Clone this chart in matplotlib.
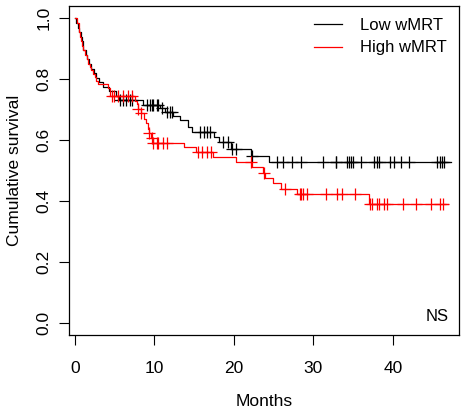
"""Kaplan-Meier style plot: Low vs High wMRT cumulative survival."""
import numpy as np
import matplotlib
matplotlib.use("Agg")
import matplotlib.pyplot as plt

plt.rcParams["font.family"] = ["Liberation Sans", "DejaVu Sans"]

# step times (months) and survival just after each step
low_t = [0.1, 0.4, 0.6, 0.8, 0.9, 1.0, 1.1, 1.4, 1.6, 1.8, 2.0, 2.4, 2.7, 3.1,
         3.5, 4.3, 5.2, 5.6, 8.6, 10.7, 11.3, 12.3, 13.2, 14.2, 14.7, 17.5,
         18.2, 19.6, 22.2, 24.4]
low_s = [0.985, 0.97, 0.955, 0.94, 0.925, 0.91, 0.895, 0.88, 0.865, 0.85,
         0.835, 0.82, 0.805, 0.79, 0.775, 0.76, 0.745, 0.731, 0.717, 0.704,
         0.692, 0.678, 0.665, 0.643, 0.627, 0.611, 0.594, 0.571, 0.548, 0.527]
low_cens = [5.7, 6.1, 6.5, 6.96, 7.2, 9.06, 9.5, 9.7, 9.9, 10.3, 10.5, 11.0,
            11.6, 12.0, 12.2, 15.7, 16.2, 16.6, 17.0, 18.7, 19.3, 19.8, 20.3,
            22.3, 25.4, 26.2, 27.3, 28.5, 31.2, 32.8, 32.9, 34.3, 34.5, 34.7,
            35.0, 36.0, 37.7, 38.0, 38.3, 39.7, 40.2, 41.05, 42.0, 45.6, 45.9,
            46.2, 46.5]
low_end = 47.3

high_t = [0.3, 0.5, 0.6, 0.7, 0.8, 0.9, 1.1, 1.3, 1.5, 1.7, 1.9, 2.1, 2.3, 2.5,
          2.7, 2.9, 4.2, 4.5, 7.6, 7.8, 7.9, 8.3, 8.7, 9.0, 9.2, 9.4, 9.6, 9.8,
          13.7, 15.2, 17.4, 20.3, 22.3, 23.7, 23.9, 24.9, 26.0, 27.9, 37.0]
high_s = [0.985, 0.97, 0.955, 0.94, 0.925, 0.91, 0.895, 0.88, 0.865, 0.85,
          0.84, 0.829, 0.818, 0.806, 0.795, 0.784, 0.77, 0.745, 0.73, 0.718,
          0.703, 0.688, 0.671, 0.655, 0.638, 0.622, 0.607, 0.592, 0.577,
          0.562, 0.545, 0.529, 0.513, 0.492, 0.477, 0.46, 0.438, 0.423, 0.389]
high_cens = [4.7, 5.0, 5.5, 6.1, 6.7, 7.2, 8.0, 8.4, 9.4, 9.7, 9.9, 10.3, 10.5,
             11.1, 11.6, 15.5, 16.0, 16.6, 17.2, 22.2, 23.75, 26.4, 28.3, 28.5,
             28.7, 29.2, 31.6, 33.0, 33.6, 35.3, 37.1, 37.4, 38.0, 38.3, 38.96,
             39.25, 41.3, 42.9, 44.8, 45.9, 46.3]
high_end = 47.0

groups = ["Low wMRT", "High wMRT"]
colors = ["black", "red"]

fig = plt.figure(figsize=(4.62, 4.13), dpi=100)
ax = fig.add_axes([0.150, 0.189, 0.843, 0.796])


def surv_at(times, surv, x):
    idx = np.searchsorted(times, x, side="right") - 1
    s = np.concatenate([[1.0], surv])
    return s[idx + 1]


for t, s, cens, end, col, name in [
    (low_t, low_s, low_cens, low_end, colors[0], groups[0]),
    (high_t, high_s, high_cens, high_end, colors[1], groups[1]),
]:
    tt = np.concatenate([[0.0], t, [end]])
    ss = np.concatenate([[1.0], s, [s[-1]]])
    ax.step(tt, ss, where="post", color=col, lw=0.9, label=name)
    cy = surv_at(np.array(t), np.array(s), np.array(cens))
    ax.plot(cens, cy, ls="none", marker="+", ms=8.5, mew=0.9, color=col)

ax.set_xlim(-0.68, 48.3)
ax.set_ylim(-0.04, 1.04)
ax.set_xticks([0, 10, 20, 30, 40])
ax.set_yticks([0.0, 0.2, 0.4, 0.6, 0.8, 1.0])
ax.set_yticklabels(["0.0", "0.2", "0.4", "0.6", "0.8", "1.0"],
                   rotation=90, va="center")
ax.tick_params(direction="out", length=7, width=0.8, labelsize=12.5)
ax.tick_params(axis="x", pad=12)
ax.tick_params(axis="y", pad=6)
for sp in ax.spines.values():
    sp.set_linewidth(0.9)

ax.set_xlabel("Months", fontsize=12.5, labelpad=13)
ax.set_ylabel("Cumulative survival", fontsize=12.5, labelpad=10)

ax.legend(loc="upper right", frameon=False, fontsize=12, handlelength=1.7,
          handletextpad=1.1, labelspacing=0.45, borderaxespad=0.3,
          bbox_to_anchor=(1.0, 1.0))
ax.text(0.975, 0.055, "NS", transform=ax.transAxes, ha="right", va="center",
        fontsize=12)

plt.savefig("out.png", dpi=100)
plt.close()
